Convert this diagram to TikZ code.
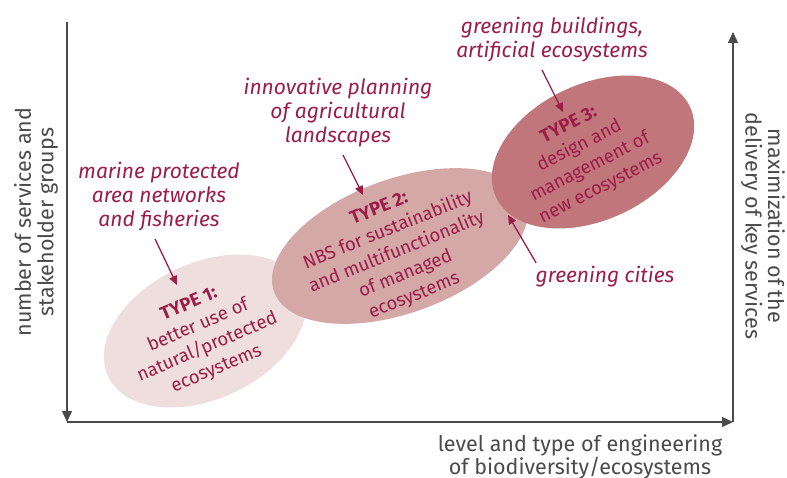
\documentclass[tikz,border=0pt]{standalone}
\usepackage{fontspec}
\setmainfont{Fira Sans}
\usetikzlibrary{shapes.geometric,arrows.meta,calc}
\definecolor{wine}{HTML}{9B1D48}
\definecolor{axisgray}{HTML}{4A4A4A}
\definecolor{pinkA}{HTML}{EEDEDD}
\definecolor{pinkB}{HTML}{D5A8A8}
\definecolor{pinkC}{HTML}{C0767B}

\begin{document}
\begin{tikzpicture}[x=1pt,y=-1pt,
    axis/.style={draw=axisgray,line width=1.2pt,-{Triangle[length=11pt,width=10pt]}},
    blob/.style={ellipse,inner sep=0pt},
    blobtext/.style={text=wine,align=center,font=\fontsize{18.5}{23.5}\selectfont},
    note/.style={text=wine,align=center,font=\itshape\fontsize{21}{24}\selectfont},
    pointer/.style={draw=wine,line width=1.3pt,-{Triangle[length=9pt,width=8pt]}},
    axlabel/.style={text=axisgray,align=center,font=\fontsize{21.5}{22.5}\selectfont}]
    \useasboundingbox (0,0) rectangle (787,477);
    \coordinate (ytop) at (67,22);
    \coordinate (origin) at (67,422);
    \coordinate (xend) at (733,422);
    \coordinate (zend) at (733,32);
    \draw[axis] (ytop) -- (origin);
    \draw[axis] (origin) -- (xend);
    \draw[axis] (xend) -- (zend);
    \node[axlabel,rotate=90] (ylab) at (36,222) {number of services and\\stakeholder groups};
    \node[axlabel,rotate=-90] (zlab) at (763,226) {maximization of the\\delivery of key services};
    \node[axlabel] (xlab) at (580,457) {level and type of engineering\\of biodiversity/ecosystems};
    \node[blob,fill=pinkA,minimum width=214pt,minimum height=136pt,rotate=25] (t1) at (205,331) {};
    \node[blob,fill=pinkB,minimum width=268pt,minimum height=134pt,rotate=20] (t2) at (400,246) {};
    \node[blob,fill=pinkC,minimum width=214pt,minimum height=136pt,rotate=25] (t3) at (593,152) {};
    \node[blobtext,rotate=23] (t1text) at ($(t1)+(-2,6)$) {\textbf{TYPE 1:}\\better use of\\natural/protected\\ecosystems};
    \node[blobtext,rotate=22] (t2text) at ($(t2)+(-3,7)$) {\textbf{TYPE 2:}\\NBS for sustainability\\and multifunctionality\\of managed\\ecosystems};
    \node[blobtext,rotate=27] (t3text) at ($(t3)+(-8,5)$) {\textbf{TYPE 3:}\\design and\\management of\\new ecosystems};
    \node[note] (marine) at (159,197) {marine protected\\area networks\\and fisheries};
    \node[note] (agri) at (338,113) {innovative planning\\of agricultural\\landscapes};
    \node[note] (build) at (552,40) {greening buildings,\\artificial ecosystems};
    \node[note] (cities) at (605,277) {greening cities};
    \draw[pointer] ($(marine.south)+(-4,4)$) -- ($(t1)+(-28,-46)$);
    \draw[pointer] ($(agri.south)+(5,4)$) -- ($(t2)+(-37,-51)$);
    \draw[pointer] ($(build.south)+(-10,4)$) -- ($(t3)+(-30,-40)$);
    \draw[pointer] ($(cities.west)+(4,-14)$) -- ($(t2)+(108,-31)$);
\end{tikzpicture}
\end{document}
